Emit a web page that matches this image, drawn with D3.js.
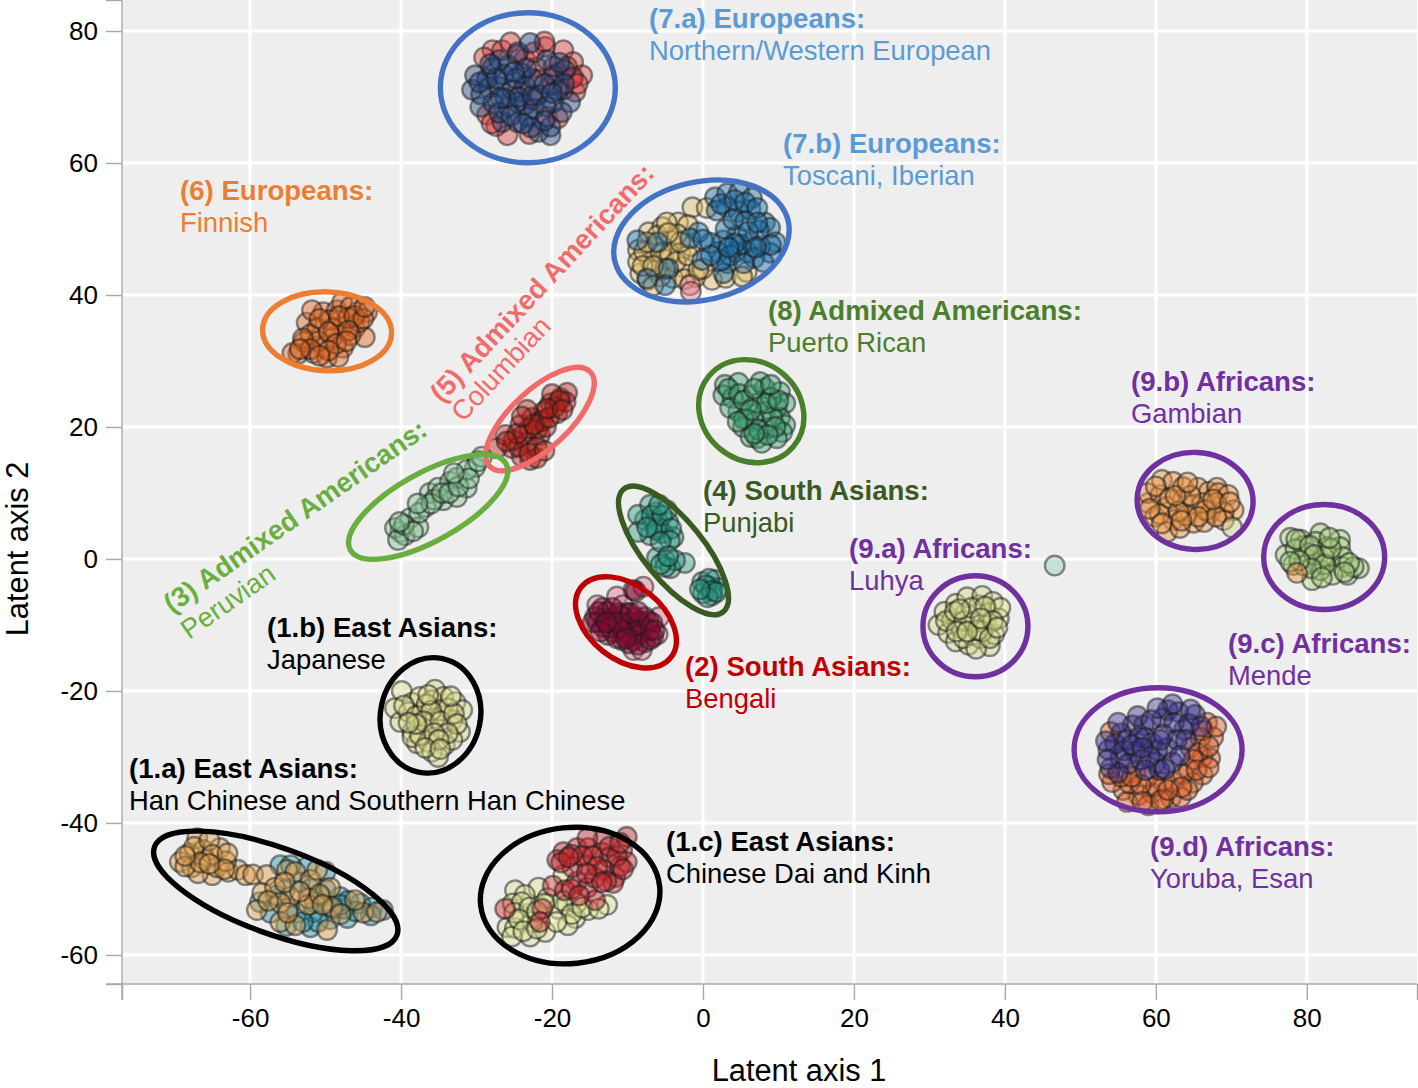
<!DOCTYPE html>
<html>
<head>
<meta charset="utf-8">
<script src="https://cdn.jsdelivr.net/npm/d3@7"></script>
<style>
  body { margin: 0; background: #fff; }
  text { font-family: "Liberation Sans", Arial, sans-serif; }
</style>
</head>
<body>
<div id="chart"></div>
<script>
// values, [latent axis 1, latent axis 2]
const xTicks = [-60, -40, -20, 0, 20, 40, 60, 80];
const yTicks = [-60, -40, -20, 0, 20, 40, 60, 80];

const yri = [[53.7,-28.9],[54,-31.7],[55.3,-30.2],[56.9,-25.2],[58.4,-25.2],[55.4,-26.4],[57.3,-29.2],[59.5,-27.9],[61.5,-28.6],[60,-30.9],[62.2,-30.8],[61.6,-22.9],[63,-23.2],[65.2,-23.6],[63.7,-25.9],[60.9,-24.1],[58.6,-27.1],[55.8,-29],[60.2,-29],[62.4,-24.8],[64.4,-25],[54.6,-28],[56.4,-31],[60.5,-32],[58,-30.4],[53.4,-27.6],[55,-24.8],[57.6,-23.8],[59.4,-24.4],[56.2,-27.4],[57.8,-27],[59.2,-30],[61,-26.6],[62.8,-27.4],[63.2,-29.8],[61.2,-31.8],[58.6,-32],[64.6,-22.8],[66,-25.4],[62.2,-22],[60.2,-22.6],[55,-32.4],[56.8,-28.2],[53.6,-30.4],[58.2,-28.6],[60.6,-27.4],[64,-27.4]];
const esn = [[66.8,-24.8],[67.6,-27],[65.9,-27.1],[64.6,-28.6],[66.2,-30],[67.2,-30.2],[64.3,-31.7],[66.2,-32.7],[64.9,-33.9],[57.3,-32.3],[55.7,-35],[57.7,-35.8],[59.5,-35.5],[62,-36.2],[63.3,-36.1],[60.9,-33.8],[62.3,-33.8],[56.2,-36.8],[59,-37.3],[54.2,-33.8],[54,-26.2],[58.9,-33],[65.6,-29.4],[56.5,-34],[61,-36.4],[66.2,-26],[68,-25.4],[67,-28.4],[65,-30.4],[63.6,-32.6],[65.4,-32],[67,-31.6],[64.2,-35],[60,-34.4],[58,-34.2],[55.4,-33],[56.8,-33],[60.6,-36.6],[58.2,-36.8],[63.4,-34.6],[61.6,-35],[53.8,-32.6]];
const msl = [[77.8,3.2],[77.2,0.6],[78.2,-0.9],[79.2,2.9],[79.6,2],[79.8,0.2],[80.7,-3.2],[81.4,-0.6],[81.8,3.9],[81.2,2.6],[82.7,1.8],[84.4,2.9],[84.4,1.8],[83,0.3],[84.8,0.3],[84.7,-1.2],[85.4,-2.4],[86.9,-1.4],[86.2,-1.2],[83.4,-2.4],[81.8,-1.7],[80.2,0.9],[78.5,1.5],[82.2,0.4],[79.6,-1],[78.6,3],[80.4,2],[81,0.6],[82.4,-0.8],[83.2,1.6],[80.6,-1.4],[85.6,-0.6],[83,3.2],[79,-0.2],[85,-2],[82,-2.8],[77.8,-0.4]];
const gwd = [[59,8.5],[58.9,10],[59.9,6.4],[60.6,9.7],[60.8,12],[62.3,11.7],[61.5,7.9],[62.3,5.9],[61.5,4.1],[63.2,4.7],[63.5,8.9],[63.6,10.9],[65.6,10.8],[65,8.2],[65,5.5],[67.2,7],[67,10.2],[68.1,10.8],[68.3,10],[69.6,9.7],[70.3,7.4],[69,7.1],[69,5.9],[66.2,8.5],[60.5,6.8],[64,6.6],[66.4,5.6],[68,8.5],[78.7,-2.1],[60,11],[61.8,9.2],[63,7.2],[64.6,9.6],[66.6,7.4],[68,6.4],[59.2,7.6],[60.8,5.4],[62.6,9.6],[67.6,9],[69.8,8.6],[64.2,11.6],[65.6,6.4],[63.4,5.8]];
const lwk = [[31.2,-10],[32,-8],[32.5,-11.2],[33,-9.2],[33.5,-6.8],[33.5,-12.5],[34.2,-10.5],[34.8,-8.2],[35,-5.8],[35.2,-13],[35.6,-11.5],[36,-9.5],[36.6,-7],[36.8,-12],[37,-5.6],[37.6,-10],[37.8,-8.2],[38,-13.2],[38.4,-6.5],[38.6,-11.4],[39.2,-9],[39.4,-7.4],[34.5,-12],[36.2,-13.6],[37,-11],[70.1,4.8],[32.2,-9.4],[33.4,-8],[34.6,-9.4],[35.6,-7.4],[36.4,-10.8],[37.4,-7.2],[38.4,-9.4],[33.6,-11],[35,-11],[38,-12],[34,-7.6],[39,-10.4],[36.8,-9]];
const outlier = [[46.6,-1]];
const fin = [[-53.6,31.1],[-52.5,35.8],[-50.3,37.4],[-48.5,37.7],[-47.8,38.9],[-44.5,37.4],[-45.8,37.4],[-51.8,37.7],[-51.1,35],[-47.8,35.2],[-46.1,35],[-44.8,33.6],[-47.7,32],[-50.3,32.1],[-51.6,31.2],[-52.9,32.9],[-49.1,33.6],[-46.7,33.9],[-49.8,30.5],[-48.3,30.6],[-54.4,31.2],[-49.4,36.2],[-46.7,38.2],[-45.5,35.9],[-49,35],[-52,34],[-47,36.5],[-51,33],[-53,33.4],[-52,31.8],[-50.8,36.4],[-49.6,34.4],[-48.2,36.8],[-46.2,36.8],[-45,36.4],[-47,34.6],[-48.6,32.6],[-49.6,31.6],[-50.8,30.8],[-47.2,33],[-44.8,38.2],[-53.4,31.8]];
const pur = [[2.9,26.4],[4.7,26.7],[2.7,24.8],[3.9,24.4],[4.7,22.3],[3.6,22.9],[6.5,24.8],[8.2,25.9],[7.6,26.8],[10.2,25.3],[9.8,23],[10.9,23.6],[7.3,23.6],[6,21.1],[8.2,22.3],[6.9,20.8],[5.3,20],[8.6,19.8],[10.2,21.4],[10.9,20.3],[10.5,19.2],[7.2,18.3],[6.3,18.5],[7.8,17.6],[9.8,18.3],[9.2,21.4],[3.4,25.8],[4.8,25],[5.4,24],[6.8,25.8],[9,24.4],[8.4,23.6],[5.4,21.2],[6.4,22.6],[7.4,19.6],[9.6,20],[8.6,18.8],[6.8,19],[10,24],[4.6,20.8],[9,26.4]];
const ceuRed = [[-27.9,77.1],[-26.6,77.1],[-25.5,78.3],[-20.9,77.6],[-18.5,77.1],[-17.2,75.3],[-16,73.3],[-16.9,70.8],[-22,74.5],[-21.8,72.6],[-18.5,71.1],[-28.6,67.3],[-25.9,64.2],[-20.7,67],[-19.2,66.8],[-19.2,73.6],[-17.4,72.8],[-23.6,75.8],[-29,76],[-24.6,76.4],[-22.4,76.8],[-19.8,74.6],[-18,74.6],[-17.2,73],[-20,71.8],[-24,70.8],[-27.4,65.6],[-28,66],[-22.6,69.6],[-16.6,72],[-23,64.4],[-21,78.4]];
const ceuBlue = [[-30.6,71.1],[-30.2,73.3],[-27.9,74.4],[-28.4,71.4],[-29.5,68.5],[-26.9,71.5],[-25.3,71.1],[-23.6,71.8],[-26.6,66.2],[-24.6,66.2],[-23.2,67],[-25.8,68.5],[-23.6,68.8],[-21.8,70.3],[-19.8,69.2],[-17.6,69.2],[-18.7,67.7],[-21.8,64.7],[-20.2,64.2],[-20.2,65.5],[-19.8,73.3],[-25.8,74.8],[-24.5,76.8],[-20.7,75.6],[-22.9,78.2],[-18.3,74.1],[-27.8,69.1],[-24.6,69.2],[-28.6,72.8],[-26.4,73.4],[-22.4,68.2],[-24,73.6],[-29.4,70.4],[-29.6,72.2],[-27.4,72.8],[-26.2,69.8],[-27,67.6],[-25.4,67.2],[-24.4,70],[-22.6,70.2],[-22.6,72.8],[-21,72],[-20.8,68.6],[-21,66.4],[-22.8,65.4],[-19.2,71],[-18.4,72],[-23.4,74.4],[-27,75.6],[-24.8,72.8],[-28.2,75],[-23.8,66],[-26.8,69.8],[-19,75.2],[-20,70.6],[-25,73.8]];
const tsi = [[-1.4,53.3],[0.5,53.2],[5.8,43.5],[1.2,42.3],[-1,42.7],[-7.2,49.5],[-3.3,51],[-2,50.6],[-5.4,50.3],[-8.6,46.8],[-8.3,43.3],[-7.3,42.3],[-6.4,47.2],[-5.2,45.4],[-7,45],[-4.2,48.2],[-3,46.4],[-2.6,44.2],[-4,42.6],[-5.6,42.8],[-6.2,43.8],[-1.6,47.4],[-3.4,49.2],[-6,49],[0,44],[-8.6,45],[-7.8,46.6],[-5.6,46.4],[-7.4,48],[-6.6,41.4],[-4.4,46.2],[-3.6,45],[-2,46],[-4.8,51],[-2.4,42.4],[-5,44],[-8,44.4],[-0.6,43.8],[3,42.6],[5.2,42.8],[-3,48],[-6.6,44.4],[-4.6,49.4]];
const ibs = [[1.6,54.8],[3.2,55.4],[4.8,55.6],[6.5,54.7],[3.2,53.3],[4.7,52.6],[6.3,52.9],[8.2,51],[8.9,50.2],[9.6,48],[8.9,46.4],[6.3,48],[4.5,49],[5.9,46.5],[4.3,46.5],[2.7,48.3],[2,46.5],[1,47.9],[-0.6,49.5],[-1.7,48.6],[-0.1,45.3],[3.2,44.8],[-8.7,48.3],[-6,48],[-4.6,44],[-5,41.5],[-7.4,42.5],[2.7,43.3],[7.6,47.4],[5,47.6],[3,50],[1.8,52.8],[2.4,53.8],[4.2,54.4],[5.6,54],[7.2,53.2],[4,51.4],[5.6,51.2],[7.4,49.8],[6.8,45.6],[8,45],[6,49.6],[4.2,47.8],[3.6,46],[2.4,45.2],[1,46],[5.4,44.8],[9,47.6],[7.2,51],[0,48.4],[3.4,47.2],[7,47.2]];
const ibsPink = [[-1.7,41.5],[-1.6,40.5]];
const clm = [[-25.3,16.8],[-27.3,16.8],[-26.2,18.8],[-24.2,20.3],[-25.1,18],[-23.3,17.7],[-21.6,18.8],[-22.6,21.4],[-21.6,20.8],[-22.9,15],[-22,15.3],[-24,15.5],[-20.2,23.6],[-18.9,24.4],[-18,25.2],[-21.1,22.3],[-19.3,22.1],[-18.2,23.8],[-23.3,22.6],[-20,25],[-22,19.6],[-23.8,18.8],[-21.2,21],[-19.6,23],[-24.4,17],[-23,19.8],[-24.6,19],[-22,17],[-20.8,20],[-22.4,20.4],[-20.4,21.4],[-19,24],[-20.6,22.8],[-24,21.6],[-23,16],[-21,16.4],[-26,17.8],[-18.6,22.6]];
const pel = [[-40.1,4.1],[-40.8,4.7],[-38.8,6.2],[-39.5,3.6],[-37.7,4.8],[-36.8,7.9],[-36.2,10],[-34.4,8.9],[-35.1,10.8],[-33.5,11.7],[-32.6,12.3],[-31.3,10.8],[-32.6,9.4],[-30.2,13.9],[-31.3,13.5],[-29.3,15.5],[-40.4,2.9],[-35.6,9],[-39.6,5.2],[-38.4,4.2],[-37.6,7],[-36,8.4],[-34.6,10],[-33.6,10],[-32.4,11],[-31,12.2],[-29.8,14.8],[-33,13],[-37.8,8.4],[-40.2,5.6]];
const pjl = [[-6.3,7.1],[-7.7,5.9],[-4.6,5.6],[-5.3,3.9],[-7,3.6],[-3.9,3.3],[-8.6,6.7],[-7,8.2],[-8.6,4.1],[-5.9,5.6],[-4.8,7.4],[-6,4.8],[-5,-0.2],[-6.1,0.2],[-2.4,-0.6],[-4.3,-1.4],[-3.7,-0.2],[-5,-1.2],[1,-4.2],[-0.1,-3.5],[1.6,-3.2],[2,-4.4],[1.2,-5.5],[0,-5.2],[0.8,-3],[-6.8,6.6],[-6.2,4.4],[-5.4,6.6],[-4.2,4.6],[-7.4,4.8],[-5.8,8.2],[-4.4,2.8],[-5.6,2.6],[-5.6,-0.8],[-4.6,0.4],[0.4,-4],[1.2,-4.8],[0.6,-5.8],[1.8,-5],[-0.4,-4.6]];
const bebPink = [[-14,-7],[-11.4,-5.7],[-10.6,-7],[-7.9,-4.2],[-9.2,-13.8],[-8.1,-13.8],[-6,-11.4],[-5.8,-8.8]];
const beb = [[-9.2,-4.7],[-8.9,-4.9],[-14.3,-8.8],[-13.3,-7.4],[-13.3,-10.3],[-11.9,-8.9],[-11.9,-11.1],[-10.3,-9.7],[-10.7,-12.3],[-9,-8.9],[-9,-10.8],[-7.7,-8.8],[-6.7,-9.7],[-7.7,-12.6],[-6.6,-11.8],[-14,-9.6],[-12.7,-8],[-10,-8.2],[-12.6,-11.5],[-9.2,-12.3],[-11,-10.4],[-8,-10.2],[-13,-9],[-10.8,-8.6],[-14.6,-9.6],[-13.8,-8],[-12.4,-9.4],[-12.4,-10.4],[-11.2,-8.2],[-10.6,-10.8],[-10,-11.4],[-9.6,-9.6],[-8.4,-9.6],[-8.4,-11.4],[-7,-10.8],[-7.2,-9.4],[-11.4,-12],[-9.8,-12.8],[-8.6,-13],[-13.6,-11],[-7,-12.2],[-12,-7.4],[-6.4,-10.8],[-11.2,-9.6],[-9.6,-8.2],[-8.6,-8],[-10.2,-12],[-12.8,-9.6]];
const jpt = [[-39.9,-20],[-40.8,-22.6],[-40.1,-24.7],[-38.5,-21.8],[-39,-23.2],[-37.2,-23.2],[-37.5,-20.9],[-35.5,-19.8],[-35.9,-21.4],[-34.4,-20.9],[-32.8,-21.7],[-31.9,-22.9],[-33.2,-24.4],[-32.2,-26.2],[-34.6,-25.9],[-36.4,-25.2],[-38.5,-26.2],[-37.9,-27.9],[-38.5,-27],[-36.4,-27.7],[-34.2,-28.2],[-35.9,-29.2],[-35.1,-30],[-33.2,-27.4],[-34.8,-22.9],[-33.8,-22.6],[-35.5,-24.1],[-37.5,-26.7],[-39.6,-22.2],[-38,-23.8],[-36.6,-22],[-36,-23],[-37,-24.6],[-34.8,-24.6],[-33,-23.4],[-32.6,-25],[-33.8,-26.4],[-35.6,-26.4],[-35,-27.4],[-36.8,-28.6],[-34.8,-28.8],[-38,-25],[-39,-24.8],[-33.4,-20.8],[-36.4,-20.6]];
const chs = [[-56,-46.4],[-52.5,-46.7],[-50.7,-51.2],[-48.1,-51.2],[-47.1,-54.4],[-52,-55.8],[-57.3,-53.6],[-53.8,-53.6],[-51.6,-53.5],[-45.4,-52.2],[-43.8,-52.8],[-42.4,-53.2],[-58.7,-52],[-55.2,-55.6],[-49.4,-54.6],[-50,-47.4],[-47.6,-53],[-55.4,-50.2],[-53.4,-49],[-52,-50],[-50,-50],[-49,-53],[-47,-51.8],[-51,-55],[-53,-55],[-56.6,-51],[-44,-54],[-46,-53.4],[-48,-52.4],[-54.6,-46.4],[-51.4,-52],[-55,-53]];
const chb = [[-69.3,-45.9],[-68,-44.6],[-67,-42.3],[-66.2,-44.1],[-64,-43.8],[-67.7,-46.7],[-66,-45.6],[-65,-47.9],[-64.4,-46.7],[-62.9,-47.4],[-61.6,-47.1],[-60.6,-47.9],[-66.9,-47.6],[-63.2,-45.8],[-59.6,-47.8],[-57.8,-47.9],[-58.4,-50.6],[-59.1,-53.2],[-56.7,-49.8],[-55.1,-47.1],[-54,-47.4],[-52,-48.6],[-52.3,-51.4],[-52.3,-52.4],[-54.7,-51.2],[-56,-52.1],[-56,-55],[-54,-55.5],[-49.8,-56.2],[-49.4,-49.8],[-49.1,-52.7],[-45,-53.6],[-43.2,-53.5],[-46.1,-51.7],[-51.1,-47.1],[-68.6,-46.6],[-67.4,-43.6],[-65.4,-42.6],[-65,-44.8],[-63,-44.6],[-66.6,-46],[-63.4,-47],[-68.6,-45],[-65.4,-46.2],[-57.6,-51.8],[-55.4,-49],[-53.4,-50.4],[-50.8,-50.8],[-48,-53.8],[-50.4,-52.4],[-55,-53.6]];
const cdx = [[-24.9,-50.2],[-21.8,-49.8],[-23.6,-50.9],[-25.2,-52.2],[-23.9,-54.2],[-25.9,-55.8],[-24.9,-55.9],[-22.9,-57.2],[-25.3,-57.2],[-20.9,-56.5],[-19.2,-53],[-18,-52.4],[-16.9,-54.4],[-17.9,-55.5],[-15.2,-53.2],[-12.7,-52.4],[-16.7,-52.1],[-22.6,-55],[-18.5,-47.9],[-20.6,-51.4],[-24,-52],[-25,-53.6],[-23,-52.8],[-24.4,-54.6],[-22,-53.4],[-23.8,-56.4],[-22,-56],[-18.6,-51.8],[-17.4,-53.8],[-16,-52.8],[-19.4,-55],[-13.8,-53],[-21,-52.2]];
const khv = [[-16.7,-43.8],[-15.2,-43.8],[-13.2,-42.6],[-13.4,-44.5],[-10.7,-44.1],[-10.1,-45.9],[-10.1,-42.1],[-15.3,-42.3],[-18.5,-44.4],[-19.3,-45.6],[-11.6,-48.2],[-13.2,-47.1],[-15.3,-46.4],[-16.7,-48.9],[-15.3,-49.8],[-14.3,-48.3],[-17.3,-46.7],[-19.9,-49.5],[-18.3,-50.2],[-14.3,-51.7],[-26.2,-53],[-21.3,-53],[-21.6,-55],[-11.9,-49.1],[-12.4,-45.2],[-11,-46.6],[-17.4,-44.8],[-16,-45],[-14.6,-45],[-12.4,-43.6],[-11.4,-45],[-10.6,-47],[-12.8,-48.8],[-14,-46.6],[-15.4,-47.6],[-13.4,-49],[-17.4,-50],[-16.4,-51],[-11,-43],[-18.8,-46],[-17.8,-45.2]];

const labelTitles = ["(7.a) Europeans:", "(7.b) Europeans:", "(6) Europeans:", "(8) Admixed Americans:", "(4) South Asians:", "(9.a) Africans:", "(9.b) Africans:", "(9.c) Africans:", "(9.d) Africans:", "(2) South Asians:", "(1.b) East Asians:", "(1.a) East Asians:", "(1.c) East Asians:", "(5) Admixed Americans:", "(3) Admixed Americans:"];
const labelNames = ["Northern/Western European", "Toscani, Iberian", "Finnish", "Puerto Rican", "Punjabi", "Luhya", "Gambian", "Mende", "Yoruba, Esan", "Bengali", "Japanese", "Han Chinese and Southern Han Chinese", "Chinese Dai and Kinh", "Columbian", "Peruvian"];

const MARGIN = { TOP: 0, BOTTOM: 104, LEFT: 122, RIGHT: 1 };
const WIDTH = 1418 - MARGIN.LEFT - MARGIN.RIGHT;
const HEIGHT = 1088 - MARGIN.TOP - MARGIN.BOTTOM;
const TICK = 16;
const RADIUS = 9.8;
const TITLE_SIZE = "27.6px";
const NAME_SIZE = "27.4px";

const BLUE = "#4472c4", LIGHTBLUE = "#5b9bd5", ORANGE = "#ed7d31", SALMON = "#f26b6b",
      GREEN = "#6aae3f", DKGREEN = "#4a7f2c", FOREST = "#3a5a22", RED = "#c00000",
      PURPLE = "#7030a0", BLACK = "#000000";

const series = [
  { pts: esn, fill: "#e0602a" }, { pts: yri, fill: "#3a3088" },
  { pts: msl, fill: "#a4cc7c" }, { pts: gwd, fill: "#e89040" }, { pts: lwk, fill: "#d4d888" },
  { pts: outlier, fill: "#8fd0b0" },
  { pts: fin, fill: "#dc6420" }, { pts: pur, fill: "#3ea070" },
  { pts: ceuRed, fill: "#d83c3c" }, { pts: ceuBlue, fill: "#23437e" },
  { pts: tsi, fill: "#e2bc68" }, { pts: ibs, fill: "#1a6ca4" }, { pts: ibsPink, fill: "#f08090" },
  { pts: clm, fill: "#b82018" }, { pts: pel, fill: "#84c494" }, { pts: pjl, fill: "#289a84" },
  { pts: bebPink, fill: "#e87090" }, { pts: beb, fill: "#8a0836" },
  { pts: jpt, fill: "#d8d888" }, { pts: chs, fill: "#2494a8" }, { pts: chb, fill: "#dc9c48" },
  { pts: cdx, fill: "#dce494" }, { pts: khv, fill: "#c8242c" }
];

// annotation rings: centre in data units, radii and tilt in pixels/degrees
const rings = [
  { cx: -23.2, cy: 71.4, rx: 87.5, ry: 75, rot: 0, color: BLUE },
  { cx: -0.2, cy: 48.2, rx: 89, ry: 59, rot: -13, color: BLUE },
  { cx: -49.8, cy: 34.5, rx: 64.5, ry: 39.5, rot: 2, color: ORANGE },
  { cx: -21.6, cy: 21.2, rx: 69, ry: 29, rot: -43, color: SALMON },
  { cx: -36.4, cy: 7.9, rx: 89, ry: 34, rot: -29, color: GREEN },
  { cx: 6.4, cy: 22.4, rx: 55, ry: 49, rot: 40, color: DKGREEN },
  { cx: -3.9, cy: 1.3, rx: 79, ry: 30, rot: 51, color: FOREST },
  { cx: -10.2, cy: -9.6, rx: 57, ry: 37, rot: 38, color: RED },
  { cx: 36.1, cy: -10.2, rx: 52.5, ry: 50.5, rot: 0, color: PURPLE },
  { cx: 65.2, cy: 8.8, rx: 58, ry: 48.5, rot: 3, color: PURPLE },
  { cx: 82.3, cy: 0.3, rx: 60.5, ry: 52.5, rot: 0, color: PURPLE },
  { cx: 60.3, cy: -28.9, rx: 84, ry: 62, rot: 0, color: PURPLE },
  { cx: -36.1, cy: -23.7, rx: 58, ry: 50, rot: -78, color: BLACK },
  { cx: -56.6, cy: -50.3, rx: 129, ry: 43, rot: 20, color: BLACK },
  { cx: -17.6, cy: -51, rx: 90, ry: 68, rot: -6, color: BLACK }
];

const labelPlace = [
  { x: 649, y: 28, color: LIGHTBLUE }, { x: 783, y: 153, color: LIGHTBLUE },
  { x: 180, y: 200, color: ORANGE }, { x: 768, y: 320, color: DKGREEN },
  { x: 703, y: 500, color: FOREST }, { x: 849, y: 558, color: PURPLE },
  { x: 1131, y: 391, color: PURPLE }, { x: 1228, y: 653, color: PURPLE },
  { x: 1150, y: 856, color: PURPLE }, { x: 685, y: 676, color: RED },
  { x: 267, y: 637, color: BLACK }, { x: 129, y: 778, color: BLACK },
  { x: 666, y: 851, color: BLACK },
  { x: 442, y: 404, color: SALMON, rot: -47, dx: 21, dy: 19 },
  { x: 172, y: 614, color: GREEN, rot: -35, dx: 17, dy: 26 }
];

const x = d3.scaleLinear().domain([-76.97, 94.6]).range([0, WIDTH]);
const y = d3.scaleLinear().domain([-64.4, 84.7]).range([HEIGHT, 0]);

const svg = d3.select("#chart")
  .append("svg")
    .attr("width", 1418)
    .attr("height", 1088)
    .style("display", "block");

const g = svg.append("g")
  .attr("transform", `translate(${MARGIN.LEFT}, ${MARGIN.TOP})`);

g.append("rect")
  .attr("width", WIDTH)
  .attr("height", HEIGHT)
  .attr("fill", "#eeeeee");

// grid
g.selectAll(".gx").data(xTicks).enter().append("line")
  .attr("x1", d => x(d)).attr("x2", d => x(d))
  .attr("y1", 0).attr("y2", HEIGHT)
  .attr("stroke", "#fff").attr("stroke-width", 3);
g.selectAll(".gy").data(yTicks).enter().append("line")
  .attr("y1", d => y(d)).attr("y2", d => y(d))
  .attr("x1", 0).attr("x2", WIDTH)
  .attr("stroke", "#fff").attr("stroke-width", 3);

// axes
const xAxis = g.append("g")
  .attr("transform", `translate(0, ${HEIGHT})`)
  .call(d3.axisBottom(x).tickValues(x.domain().concat(xTicks)).tickSize(TICK).tickPadding(9)
    .tickFormat(d => xTicks.includes(d) ? String(d) : ""));
const yAxis = g.append("g")
  .call(d3.axisLeft(y).tickValues(y.domain().concat(yTicks)).tickSize(TICK).tickPadding(8)
    .tickFormat(d => yTicks.includes(d) ? String(d) : ""));

[xAxis, yAxis].forEach(a => {
  a.selectAll("path.domain").remove();
  a.selectAll("line").attr("stroke", "#a8a8a8").attr("stroke-width", 1.4);
  a.selectAll("text").attr("fill", "#000").style("font-size", "26px");
});
g.append("line").attr("x1", -TICK).attr("x2", WIDTH).attr("y1", HEIGHT).attr("y2", HEIGHT)
  .attr("stroke", "#a8a8a8").attr("stroke-width", 1.4);
g.append("line").attr("x1", 0).attr("x2", 0).attr("y1", 0).attr("y2", HEIGHT + TICK)
  .attr("stroke", "#a8a8a8").attr("stroke-width", 1.4);

svg.append("text")
  .attr("x", 799).attr("y", 1081)
  .attr("text-anchor", "middle")
  .style("font-size", "30.8px")
  .text("Latent axis 1");
svg.append("text")
  .attr("transform", "translate(28, 549) rotate(-90)")
  .attr("text-anchor", "middle")
  .style("font-size", "30.8px")
  .text("Latent axis 2");

// points
series.forEach(s => {
  g.append("g").selectAll("circle")
    .data(s.pts)
    .enter().append("circle")
      .attr("cx", d => x(d[0]))
      .attr("cy", d => y(d[1]))
      .attr("r", RADIUS)
      .attr("fill", s.fill)
      .attr("fill-opacity", 0.44)
      .attr("stroke", "#1c1c1c")
      .attr("stroke-opacity", 0.5)
      .attr("stroke-width", 2.4);
});

// rings
g.selectAll(".ring").data(rings).enter().append("ellipse")
  .attr("class", "ring")
  .attr("transform", d => `translate(${x(d.cx)}, ${y(d.cy)}) rotate(${d.rot})`)
  .attr("rx", d => d.rx)
  .attr("ry", d => d.ry)
  .attr("fill", "none")
  .attr("stroke", d => d.color)
  .attr("stroke-width", 5.4);

// labels
labelPlace.forEach((p, i) => {
  if (p.rot) {
    const lab = svg.append("g").attr("fill", p.color);
    lab.append("text")
      .attr("transform", `translate(${p.x}, ${p.y}) rotate(${p.rot})`)
      .attr("font-weight", "bold").style("font-size", TITLE_SIZE).text(labelTitles[i]);
    lab.append("text")
      .attr("transform", `translate(${p.x + p.dx}, ${p.y + p.dy}) rotate(${p.rot})`)
      .style("font-size", NAME_SIZE).text(labelNames[i]);
    return;
  }
  svg.append("text").attr("x", p.x).attr("y", p.y)
    .attr("fill", p.color).attr("font-weight", "bold")
    .style("font-size", TITLE_SIZE).text(labelTitles[i]);
  svg.append("text").attr("x", p.x).attr("y", p.y + 32)
    .attr("fill", p.color)
    .style("font-size", NAME_SIZE).text(labelNames[i]);
});
</script>
</body>
</html>
